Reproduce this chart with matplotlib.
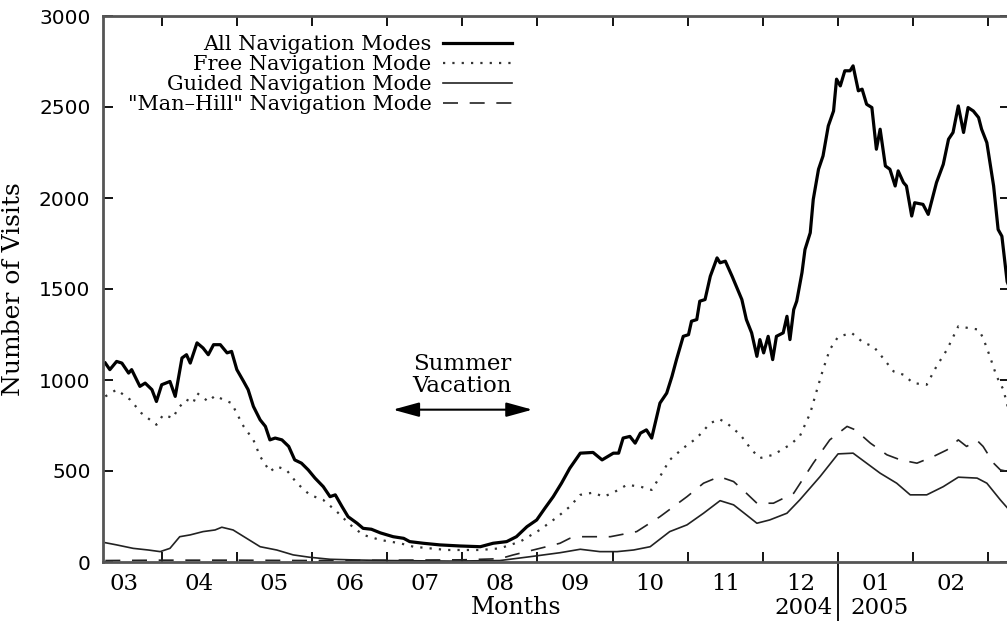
import matplotlib
matplotlib.use("Agg")
import matplotlib.pyplot as plt
from matplotlib.lines import Line2D
import matplotlib.transforms as mtransforms

# x in months since 1 March 2004 (tick 1 = 1 April ... tick 10 = 1 January 2005)
all_x = [0.25, 0.31, 0.40, 0.47, 0.56, 0.60, 0.71, 0.78, 0.87, 0.93, 1.00, 1.11, 1.18,
         1.27, 1.33, 1.38, 1.47, 1.55, 1.62, 1.69, 1.78, 1.87, 1.93, 2.00, 2.09, 2.15,
         2.22, 2.31, 2.38, 2.44, 2.51, 2.60, 2.69, 2.77, 2.86, 2.95, 3.04, 3.15, 3.24,
         3.31, 3.40, 3.48, 3.60, 3.68, 3.79, 3.91, 4.08, 4.22, 4.30, 4.48, 4.70, 4.97,
         5.24, 5.41, 5.59, 5.72, 5.86, 5.99, 6.10, 6.21, 6.32, 6.43, 6.57, 6.74, 6.86,
         7.01, 7.08, 7.14, 7.23, 7.30, 7.37, 7.45, 7.52, 7.63, 7.72, 7.79, 7.85, 7.94,
         8.01, 8.05, 8.12, 8.16, 8.23, 8.30, 8.39, 8.43, 8.50, 8.59, 8.72, 8.78, 8.85,
         8.92, 8.96, 9.01, 9.07, 9.13, 9.18, 9.27, 9.32, 9.36, 9.41, 9.45, 9.52, 9.56,
         9.63, 9.67, 9.74, 9.80, 9.87, 9.94, 9.98, 10.03, 10.09, 10.16, 10.20, 10.27,
         10.32, 10.38, 10.45, 10.51, 10.56, 10.63, 10.69, 10.76, 10.80, 10.87, 10.91,
         10.98, 11.02, 11.13, 11.20, 11.31, 11.40, 11.47, 11.53, 11.60, 11.67, 11.73,
         11.80, 11.87, 11.91, 11.98, 12.07, 12.13, 12.18, 12.25, 12.29]
all_modes = [1093, 1057, 1102, 1093, 1038, 1057, 965, 983, 947, 882, 974, 992, 910,
             1121, 1139, 1093, 1204, 1176, 1139, 1194, 1194, 1149, 1157, 1057, 992, 947,
             855, 781, 745, 671, 681, 671, 635, 561, 543, 506, 461, 414, 359,
             369, 304, 249, 213, 185, 180, 160, 139, 130, 112, 103, 94, 88,
             84, 103, 112, 139, 194, 231, 296, 359, 433, 515, 598, 602, 561,
             598, 598, 681, 690, 653, 708, 726, 681, 873, 928, 1020, 1112, 1240,
             1249, 1323, 1332, 1433, 1442, 1570, 1671, 1644, 1653, 1570, 1442, 1332, 1259,
             1130, 1222, 1149, 1240, 1112, 1240, 1259, 1350, 1222, 1387, 1433, 1590, 1717,
             1809, 1992, 2158, 2231, 2396, 2478, 2653, 2616, 2699, 2699, 2726, 2589,
             2598, 2515, 2497, 2268, 2378, 2176, 2158, 2066, 2149, 2085, 2066,
             1901, 1974, 1965, 1910, 2085, 2185, 2323, 2360, 2506, 2360, 2497,
             2478, 2442, 2378, 2304, 2066, 1827, 1790, 1540, 1500]

free_x = [0.25, 0.40, 0.58, 0.73, 0.93, 1.02, 1.15, 1.22, 1.33, 1.42, 1.47, 1.62, 1.71,
          1.82, 1.93, 2.02, 2.09, 2.22, 2.31, 2.44, 2.53, 2.66, 2.80, 2.97, 3.15, 3.33,
          3.51, 3.68, 3.91, 4.17, 4.35, 4.79, 5.24, 5.50, 5.77, 6.03, 6.27, 6.43, 6.57,
          6.74, 6.88, 7.01, 7.19, 7.37, 7.52, 7.63, 7.76, 7.94, 8.12, 8.30, 8.42, 8.52,
          8.70, 8.85, 8.96, 9.14, 9.36, 9.49, 9.63, 9.72, 9.80, 9.89, 10.00, 10.18, 10.34,
          10.47, 10.58, 10.74, 10.87, 11.00, 11.18, 11.31, 11.45, 11.60, 11.73, 11.87,
          11.93, 12.02, 12.11, 12.20, 12.29]
free_mode = [910, 947, 892, 818, 754, 809, 791, 846, 892, 873, 928, 882, 914,
             892, 873, 800, 745, 671, 580, 497, 525, 506, 433, 369, 341, 277,
             204, 149, 121, 103, 84, 66, 66, 75, 112, 176, 249, 304, 369,
             381, 359, 381, 424, 414, 396, 469, 561, 626, 681, 763, 785, 763,
             699, 616, 571, 589, 644, 690, 818, 947, 1057, 1167, 1237, 1259, 1204,
             1185, 1130, 1047, 1029, 983, 974, 1075, 1167, 1295, 1286, 1277,
             1231, 1130, 1020, 947, 800]

guided_x = [0.25, 0.40, 0.62, 0.82, 0.98, 1.11, 1.24, 1.38, 1.55, 1.71, 1.80, 1.95, 2.13,
            2.31, 2.53, 2.75, 2.97, 3.24, 3.60, 4.02, 4.84, 5.50, 5.90, 6.30, 6.57, 6.83,
            7.06, 7.28, 7.50, 7.76, 7.99, 8.21, 8.43, 8.61, 8.78, 8.92, 9.09, 9.32, 9.49,
            9.76, 10.00, 10.20, 10.38, 10.56, 10.78, 10.96, 11.18, 11.40, 11.60, 11.85,
            11.98, 12.16, 12.29]
guided_mode = [106, 94, 75, 66, 57, 75, 139, 149, 167, 176, 191, 176, 130,
               84, 66, 39, 26, 15, 11, 8, 5, 8, 29, 51, 70, 57,
               57, 66, 84, 167, 204, 268, 337, 314, 259, 213, 231, 268, 341,
               469, 594, 598, 543, 488, 433, 369, 369, 414, 466, 461,
               433, 341, 280]

manhill_x = [0.25, 1.00, 2.00, 3.00, 4.00, 5.00, 5.50, 5.67, 6.12, 6.30, 6.43, 6.57,
             6.97, 7.32, 7.63, 7.99, 8.21, 8.42, 8.61, 8.78, 8.92, 9.14, 9.41, 9.67,
             9.89, 10.12, 10.23, 10.43, 10.65, 10.83, 11.05, 11.27, 11.45, 11.60, 11.71,
             11.85, 11.93, 12.07, 12.16, 12.29]
manhill_mode = [8, 10, 10, 8, 10, 12, 18, 38, 84, 103, 130, 139,
                139, 167, 249, 359, 433, 469, 442, 378, 323, 323, 378, 543,
                671, 745, 726, 653, 589, 561, 543, 580, 616, 671, 635,
                668, 635, 543, 506, 495]

month_labels = ["03", "04", "05", "06", "07", "08", "09", "10", "11", "12", "01", "02"]

serif = "DejaVu Serif"

fig = plt.figure(figsize=(10.07, 6.21), dpi=100)
ax = fig.add_axes([103 / 1007, 59 / 621, 907 / 1007, 546 / 621])

ax.plot(all_x, all_modes, color="black", lw=2.3, label="All Navigation Modes")
ax.plot(free_x, free_mode, color="#333333", lw=1.6, dashes=(1, 3.2), label="Free Navigation Mode")
ax.plot(guided_x, guided_mode, color="#222222", lw=1.2, label="Guided Navigation Mode")
ax.plot(manhill_x, manhill_mode, color="#222222", lw=1.2, dashes=(9, 7),
        label='"Man\u2013Hill" Navigation Mode')

ax.set_xlim(0.219, 12.288)
ax.set_ylim(0, 3000)

ax.set_xticks(range(1, 13))
ax.set_xticklabels([])
ax.set_xticks([i + 0.5 for i in range(12)], minor=True)
ax.set_xticklabels(month_labels, minor=True, fontsize=16.5, family=serif)
ax.tick_params(axis="x", which="major", direction="in", length=7, width=1.3,
               top=True, bottom=True, color="black")
ax.tick_params(axis="x", which="minor", length=0, pad=8)
ax.set_yticks(range(0, 3001, 500))
ax.tick_params(axis="y", direction="in", length=7, width=1.3, left=True, right=True,
               labelsize=14.5, pad=9)

for sp in ax.spines.values():
    sp.set_color("#555555")
    sp.set_linewidth(2)

ax.set_ylabel("Number of Visits", fontsize=18, family=serif)
ax.yaxis.set_label_coords(-0.086, 0.5)
ax.set_xlabel("Months", fontsize=17, family=serif)
ax.xaxis.set_label_coords(0.456, -0.062)

# year boundary
trans = mtransforms.blended_transform_factory(ax.transData, ax.transAxes)
ax.add_line(Line2D([10, 10], [0, -0.11], transform=trans, color="black", lw=1.3, clip_on=False))
ax.annotate("2004", xy=(10, -0.084), xycoords=trans, xytext=(-5, 0), textcoords="offset pixels",
            ha="right", va="center", fontsize=16.5, family=serif)
ax.annotate("2005", xy=(10, -0.084), xycoords=trans, xytext=(12, 0), textcoords="offset pixels",
            ha="left", va="center", fontsize=16.5, family=serif)

# summer vacation
ax.text(5.0, 1030, "Summer\nVacation", ha="center", va="center", fontsize=16.5,
        family=serif, linespacing=1.0)
ax.annotate("", xy=(4.04, 837), xytext=(5.97, 837),
            arrowprops=dict(arrowstyle="<|-|>,head_length=0.8,head_width=0.22",
                            mutation_scale=20, lw=1.5, color="black"))

ax.legend(loc="upper right", bbox_to_anchor=(0.462, 0.984), markerfirst=False,
          frameon=False, borderpad=0, handlelength=3.3, handletextpad=0.55,
          labelspacing=0.05, prop={"family": serif, "size": 15})

fig.savefig("out.png", dpi=100)
